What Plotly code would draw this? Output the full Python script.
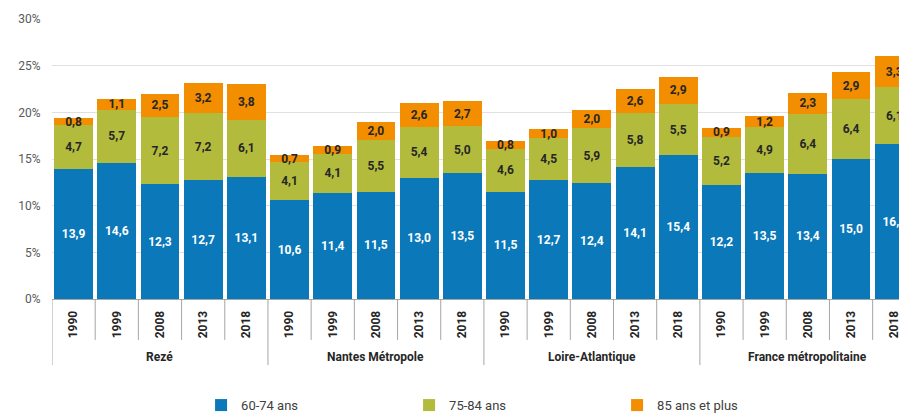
import plotly.graph_objects as go

groups = ["Rezé", "Nantes Métropole", "Loire-Atlantique", "France métropolitaine"]
years = ["1990", "1999", "2008", "2013", "2018"]

s60_74 = [13.9, 14.6, 12.3, 12.7, 13.1,
          10.6, 11.4, 11.5, 13.0, 13.5,
          11.5, 12.7, 12.4, 14.1, 15.4,
          12.2, 13.5, 13.4, 15.0, 16.6]
s75_84 = [4.7, 5.7, 7.2, 7.2, 6.1,
          4.1, 4.1, 5.5, 5.4, 5.0,
          4.6, 4.5, 5.9, 5.8, 5.5,
          5.2, 4.9, 6.4, 6.4, 6.1]
s85 = [0.8, 1.1, 2.5, 3.2, 3.8,
       0.7, 0.9, 2.0, 2.6, 2.7,
       0.8, 1.0, 2.0, 2.6, 2.9,
       0.9, 1.2, 2.3, 2.9, 3.3]

series = [
    ("60-74 ans", s60_74, "#0a78b9", "white"),
    ("75-84 ans", s75_84, "#b3bb3d", "#262626"),
    ("85 ans et plus", s85, "#f28e00", "#262626"),
]

cats = [f"{g}|{y}" for g in groups for y in years]
year_labels = [y for g in groups for y in years]

def fmt(v):
    return f"{v:.1f}".replace(".", ",")

fig = go.Figure()
for name, vals, col, tcol in series:
    fig.add_trace(go.Bar(
        x=cats, y=vals, name=name,
        marker=dict(color=col, line=dict(width=0)),
        text=[fmt(v) for v in vals],
        textposition="inside", insidetextanchor="middle",
        constraintext="none", cliponaxis=False,
        textfont=dict(family="Roboto", size=12, color=tcol, weight="bold"),
        hoverinfo="skip",
    ))

shapes = []
n = len(cats)
for i in range(n):
    b = i + 0.5
    is_group = (i + 1) % len(years) == 0
    shapes.append(dict(type="line", xref="x", yref="paper",
                       x0=b, x1=b, y0=0, y1=-0.236 if is_group else -0.146,
                       line=dict(color="#a6a6a6", width=1)))
shapes.append(dict(type="line", xref="x", yref="paper", x0=-0.5, x1=-0.5,
                   y0=0, y1=-0.236, line=dict(color="#a6a6a6", width=1)))

annotations = []
for gi, g in enumerate(groups):
    annotations.append(dict(
        x=gi * len(years) + (len(years) - 1) / 2, y=-0.207,
        xref="x", yref="paper", text=g, showarrow=False,
        yanchor="middle", xanchor="center",
        font=dict(family="Roboto", size=12, color="#262626", weight="bold")))

fig.update_layout(
    barmode="stack", bargap=0.1,
    width=899, height=413,
    margin=dict(l=52, r=0, t=19, b=114, autoexpand=False),
    plot_bgcolor="white", paper_bgcolor="white",
    shapes=shapes, annotations=annotations,
    showlegend=True,
    legend=dict(orientation="h", x=0.176, xanchor="left", y=-0.379, yanchor="middle",
                entrywidth=163, entrywidthmode="pixels",
                font=dict(family="Roboto", size=13, color="#404040"),
                traceorder="normal"),
    xaxis=dict(type="category", categoryorder="array", categoryarray=cats,
               tickmode="array", tickvals=cats, ticktext=year_labels,
               tickangle=-90, range=[-0.5, 19.11], automargin=False,
               ticks="outside", ticklen=6, tickcolor="rgba(0,0,0,0)",
               showline=True, linecolor="#a6a6a6", linewidth=1,
               tickfont=dict(family="Roboto", size=12, color="#262626", weight="bold"),
               showgrid=False, fixedrange=True),
    yaxis=dict(range=[0, 30], dtick=5, ticksuffix="%", automargin=False,
               showgrid=True, gridcolor="#e0e0e0", gridwidth=1,
               zeroline=False, ticks="outside", ticklen=8,
               tickcolor="rgba(0,0,0,0)",
               tickfont=dict(family="Roboto", size=12, color="#595959"),
               fixedrange=True),
)

fig.write_html("out.html", config={"displayModeBar": False},
               post_script="document.body.style.margin='0';document.body.style.overflow='hidden';")
